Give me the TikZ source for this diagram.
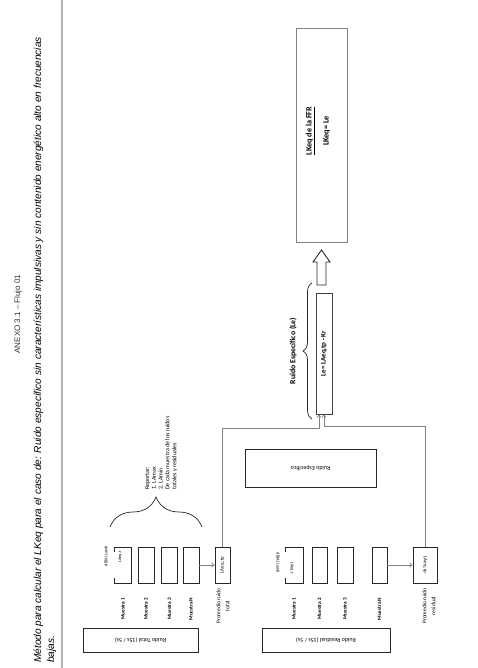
\documentclass[tikz,border=0pt]{standalone}
\usepackage{fontspec}
\setmainfont{Liberation Sans}
\newfontfamily\calib{Carlito}
\usepackage{tikz}
\usetikzlibrary{arrows.meta,positioning,calc,decorations.pathreplacing}

\begin{document}
\begin{tikzpicture}[x=1pt,y=-1pt,font=\calib\fontsize{5}{6}\selectfont,>={Straight Barb[length=2.5pt,width=4pt]}]
\tikzstyle{muestra}=[draw=black!85,line width=0.9pt,inner sep=0pt,minimum width=17pt,minimum height=36pt]
\tikzstyle{caja}=[draw=black!85,line width=0.9pt,inner sep=0pt]
\tikzstyle{conn}=[draw=gray,line width=0.7pt]
\tikzstyle{etiq}=[rotate=90,inner sep=0pt,font=\calib\bfseries\fontsize{5.2}{7}\selectfont]
\tikzstyle{chico}=[inner sep=0pt,font=\calib\fontsize{4.3}{5}\selectfont]
\useasboundingbox (0,0) rectangle (477,668);
% encabezado
\draw[gray!60,line width=1.4pt] (62,0) -- (62,668);
\node[rotate=90,text=black!80,font=\fontsize{8}{10}\selectfont] (anexo) at (18,314) {ANEXO 3.1 – Flujo 01};
\node[rotate=90,anchor=base west,inner sep=0pt,font=\itshape\fontsize{10.1}{12}\selectfont] (metodo) at (41,663) {Método para calcular el LKeq para el caso de: Ruido específico sin características impulsivas y sin contenido energético alto en frecuencias};
\node[rotate=90,anchor=base west,inner sep=0pt,font=\itshape\fontsize{10.1}{12}\selectfont] (bajas) at (54,663) {bajas.};
% ruido total
\node[caja,minimum width=115pt,minimum height=24pt] (total) at (140.5,640) {\rotatebox{180}{\calib\fontsize{6}{7}\selectfont Ruido Total (15s / 5s)}};
\node[muestra] (t1) at (123,565) {};
\node[muestra,minimum width=16pt] (t2) at (146,565) {};
\node[muestra,minimum width=16pt] (t3) at (169.5,565) {};
\node[muestra,minimum width=16pt] (tn) at (191,565) {};
\node[muestra,minimum width=15pt] (tp) at (222.5,565) {\rotatebox{90}{LAeq ,tp}};
\node[chico,rotate=90] (dbt) at (106,556) {dB(A) Lamb};
\node[chico,rotate=90] (lat) at (120,557) {LAeq,t};
\node[etiq] (m1t) at (123,609) {Muestra 1};
\node[etiq] (m2t) at (146,609) {Muestra 2};
\node[etiq] (m3t) at (169.5,609) {Muestra 3};
\node[etiq] (mnt) at (191,609) {Muestra N};
\node[etiq,align=center,font=\calib\fontsize{5.6}{9}\selectfont] (prt) at (223,606) {Promedio ruido\\total};
\draw[conn,->] (tn) -- (tp);
\draw[decorate,decoration={brace,amplitude=30pt},black!85,line width=0.7pt] (110,527) -- (202,527);
\node[rotate=90,anchor=north west,inner sep=0pt,align=left,font=\calib\fontsize{6}{6.8}\selectfont] (reportar) at (145,490) {Reportar:\\1. LAmax\\2. LAmin\\De cada muestra de los ruidos\\totales y residuales};
% ruido residual
\node[caja,minimum width=128pt,minimum height=24pt] (residual) at (326,640) {\rotatebox{180}{\calib\fontsize{6}{7}\selectfont Ruido Residual (15s / 5s)}};
\node[muestra,minimum width=18pt] (r1) at (294,565) {};
\node[muestra,minimum width=15pt] (r2) at (319.5,565) {};
\node[muestra,minimum width=16pt] (r3) at (345,565) {};
\node[muestra,minimum width=15pt] (rn) at (379.5,565) {};
\node[muestra,minimum width=24pt] (rp) at (425,565) {\rotatebox{-90}{LAeq ,rp}};
\node[chico,rotate=-90] (dbr) at (278,563) {dB(A) Lamb};
\node[chico,rotate=-90] (lar) at (292,568) {LAeq,t};
\node[etiq] (m1r) at (294,609) {Muestra 1};
\node[etiq] (m2r) at (319.5,609) {Muestra 2};
\node[etiq] (m3r) at (345,609) {Muestra 3};
\node[etiq] (mnr) at (379.5,609) {Muestra N};
\node[etiq,align=center,font=\calib\fontsize{5.6}{9}\selectfont] (prr) at (429,606) {Promedio ruido\\residual};
\draw[conn,->] (rn) -- (rp);
% ruido especifico
\node[caja,minimum width=131pt,minimum height=38pt] (especifico) at (310.5,468) {\rotatebox{180}{\calib\fontsize{6}{7}\selectfont Ruido Específico}};
\node[caja,draw=black!75,minimum width=16pt,minimum height=121pt] (le) at (324,353.5) {\rotatebox{90}{\calib\bfseries\fontsize{7}{8}\selectfont Le= LAeq,tp - Kr}};
\draw[decorate,decoration={brace,amplitude=9pt},black!85,line width=0.7pt] (312,419) -- (312,283);
\node[etiq,font=\calib\bfseries\fontsize{7.8}{9}\selectfont] (lelab) at (293,351) {Ruido Específico (Le)};
\draw[conn,->] (tp.north) |- ($(le.south)+(-5,14)$) -- ($(le.south)+(-5,0)$);
\draw[conn,->] (rp.north) |- ($(le.south)+(0,12)$) -- (le.south);
% resultado
\draw[caja,line join=miter] (321.5,250) -- (330,262) -- (326,262) -- (326,285) -- (317,285) -- (317,262) -- (313,262) -- cycle;
\node[caja,draw=gray,minimum width=51pt,minimum height=214pt] (lkeq) at (321.5,135) {};
\node[rotate=90,align=center,inner sep=0pt,font=\calib\bfseries\fontsize{8.2}{17}\selectfont] (lktxt) at (318,131) {\underline{LKeq de la FFR}\\LKeq= Le};
% muestra 1 abiertas
\fill[white] ($(t1.north west)+(-1,5)$) rectangle ($(t1.south west)+(1,-5)$);
\fill[white] ($(r1.north west)+(-1,5)$) rectangle ($(r1.south west)+(1,-5)$);
\end{tikzpicture}
\end{document}
